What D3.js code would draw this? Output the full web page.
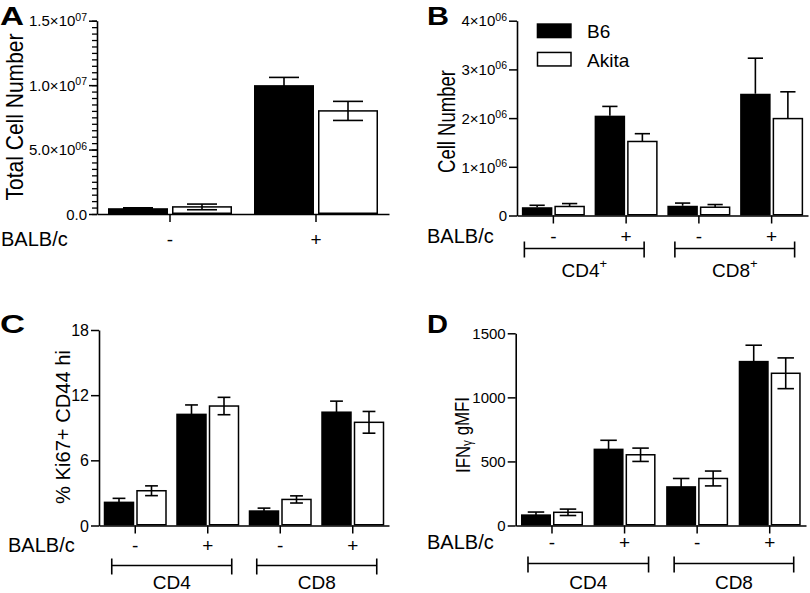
<!DOCTYPE html>
<html><head><meta charset="utf-8">
<script src="https://cdn.jsdelivr.net/npm/d3@7"></script>
<style>
body{margin:0;background:#fff}
svg{display:block}
text{font-family:"Liberation Sans",Arial,Helvetica,sans-serif;fill:#000}
</style>
</head><body>
<svg id="chart" width="810" height="593"></svg>
<script>
// ---------------- DATA ----------------
const seriesNames = ["B6", "Akita"];

// Panel A: total cell number
const catsA = ["-", "+"];
const totalB6 = [0.45e6, 10.0e6];
const totalB6Err = [0.03e6, 0.6e6];
const totalAkita = [0.55e6, 8.0e6];
const totalAkitaErr = [0.22e6, 0.74e6];
const ticksA = [0, 5e6, 1e7, 1.5e7];
const tickLabelsA = ["0.0", "5.0×10^06", "1.0×10^07", "1.5×10^07"];

// Shared categories for B, C, D
const catsSub = ["CD4 -", "CD4 +", "CD8 -", "CD8 +"];
const balbLabels = ["-", "+", "-", "+"];

// Panel B: cell number
const cellB6 = [0.17e6, 2.05e6, 0.2e6, 2.5e6];
const cellB6Err = [0.04e6, 0.19e6, 0.055e6, 0.73e6];
const cellAkita = [0.185e6, 1.52e6, 0.17e6, 1.99e6];
const cellAkitaErr = [0.06e6, 0.16e6, 0.055e6, 0.55e6];
const ticksB = [0, 1e6, 2e6, 3e6, 4e6];
const tickLabelsB = ["0", "1×10^06", "2×10^06", "3×10^06", "4×10^06"];
const subsetsB = [["CD4", "+"], ["CD8", "+"]];

// Panel C: % Ki67+ CD44 hi
const kiB6 = [2.2, 10.3, 1.4, 10.5];
const kiB6Err = [0.3, 0.8, 0.2, 0.95];
const kiAkita = [3.2, 11.0, 2.4, 9.5];
const kiAkitaErr = [0.45, 0.8, 0.33, 1.0];
const ticksC = [0, 6, 12, 18];
const tickLabelsC = ["0", "6", "12", "18"];
const subsetsC = [["CD4", ""], ["CD8", ""]];

// Panel D: IFNγ gMFI
const ifnB6 = [87, 600, 307, 1285];
const ifnB6Err = [18, 65, 60, 122];
const ifnAkita = [103, 552, 367, 1188];
const ifnAkitaErr = [25, 52, 58, 120];
const ticksD = [0, 500, 1000, 1500];
const tickLabelsD = ["0", "500", "1000", "1500"];
const subsetsD = [["CD4", ""], ["CD8", ""]];

// ---------------- DRAW ----------------
const svg = d3.select("#chart");

function panel(cfg) {
  const g = svg.append("g");
  const y = d3.scaleLinear().domain(cfg.domain).range([cfg.yBase, cfg.yTop]);
  const x = d3.scaleBand().domain(cfg.cats).range([cfg.x0, cfg.x1]).padding(0);
  const gap = cfg.gap, bw = cfg.barW;
  const inner = d3.scaleBand().domain(seriesNames)
    .range([-(bw + gap), bw + gap])
    .paddingInner(2 * gap / (bw + 2 * gap)).paddingOuter(0);

  const rows = [];
  cfg.cats.forEach((c, i) => {
    rows.push({cat: c, s: "B6", v: cfg.b6[i], e: cfg.b6Err[i]});
    rows.push({cat: c, s: "Akita", v: cfg.ak[i], e: cfg.akErr[i]});
  });
  const cx = d => x(d.cat) + x.bandwidth() / 2;

  // bars
  g.selectAll("rect.bar").data(rows).join("rect")
    .attr("class", "bar")
    .attr("x", d => cx(d) + inner(d.s) + (d.s === "Akita" ? 0.75 : 0))
    .attr("width", d => inner.bandwidth() - (d.s === "Akita" ? 1.5 : 0))
    .attr("y", d => y(d.v))
    .attr("height", d => cfg.yBase - y(d.v) - (d.s === "Akita" ? 0.75 : 0))
    .attr("fill", d => d.s === "B6" ? "#000" : "#fff")
    .attr("stroke", d => d.s === "B6" ? "none" : "#000")
    .attr("stroke-width", 1.5);

  // error bars
  const capHalf = bw * cfg.cap / 2;
  const eb = g.selectAll("g.err").data(rows).join("g").attr("class", "err")
    .attr("stroke", "#000").attr("stroke-width", 1.6).attr("fill", "none");
  eb.each(function(d) {
    const gg = d3.select(this);
    const mx = cx(d) + inner(d.s) + inner.bandwidth() / 2;
    const lo = cfg.upOnly ? d.v : d.v - d.e;
    gg.append("line").attr("x1", mx).attr("x2", mx).attr("y1", y(lo)).attr("y2", y(d.v + d.e));
    gg.append("line").attr("x1", mx - capHalf).attr("x2", mx + capHalf).attr("y1", y(d.v + d.e)).attr("y2", y(d.v + d.e));
    if (!cfg.upOnly)
      gg.append("line").attr("x1", mx - capHalf).attr("x2", mx + capHalf).attr("y1", y(d.v - d.e)).attr("y2", y(d.v - d.e));
  });

  // minor ticks
  if (cfg.minor) {
    const ma = g.append("g").attr("transform", `translate(${cfg.x0},0)`)
      .call(d3.axisLeft(y).ticks(cfg.minor).tickSize(5).tickSizeOuter(0).tickFormat(""));
    ma.select(".domain").remove();
    ma.selectAll("line").attr("stroke-width", 1.3);
  }

  // y axis
  const ya = g.append("g").attr("transform", `translate(${cfg.x0},0)`)
    .call(d3.axisLeft(y).tickValues(cfg.ticks).tickSize(8).tickSizeOuter(0).tickPadding(2)
      .tickFormat((d, i) => cfg.tickLabels[i]));
  ya.select(".domain").attr("stroke-width", 1.6);
  ya.selectAll(".tick line").attr("stroke-width", 1.5);
  ya.selectAll(".tick text").attr("font-size", cfg.tickSize || 15).attr("font-family", null)
    .attr("dy", "0.35em")
    .each(function() {
      const t = d3.select(this);
      const s = t.text();
      if (s.indexOf("^") >= 0) {
        const [base, sup] = s.split("^");
        t.text(null);
        t.append("tspan").text(base);
        t.append("tspan").attr("font-size", 10.5).attr("dy", "-0.55em").text(sup);
      }
    });

  // x axis
  const xa = g.append("g").attr("transform", `translate(0,${cfg.yBase})`)
    .call(d3.axisBottom(x).tickSize(8).tickSizeOuter(0).tickFormat(""));
  xa.select(".domain").attr("stroke-width", 1.6);
  xa.selectAll(".tick line").attr("stroke-width", 1.5);

  // category (-/+) labels
  g.selectAll("text.catlab").data(cfg.cats).join("text")
    .attr("class", "catlab")
    .attr("x", c => x(c) + x.bandwidth() / 2)
    .attr("y", cfg.catY)
    .attr("text-anchor", "middle").attr("font-size", 19)
    .text((c, i) => cfg.catLabels[i]);

  // BALB/c label
  g.append("text").attr("x", cfg.balbX).attr("y", cfg.catY)
    .attr("font-size", 20).text("BALB/c");

  // brackets
  if (cfg.subsets) {
    cfg.subsets.forEach((sub, k) => {
      const c1 = cfg.cats[2 * k], c2 = cfg.cats[2 * k + 1];
      const xa1 = x(c1) + x.bandwidth() / 2 + cfg.brFrom[k];
      const xa2 = x(c2) + x.bandwidth() / 2 + cfg.brTo[k];
      const by = cfg.brY;
      const bg = g.append("g").attr("stroke", "#000").attr("stroke-width", 1.6);
      bg.append("line").attr("x1", xa1).attr("x2", xa2).attr("y1", by).attr("y2", by);
      bg.append("line").attr("x1", xa1).attr("x2", xa1).attr("y1", by - 7).attr("y2", by + 9);
      bg.append("line").attr("x1", xa2).attr("x2", xa2).attr("y1", by - 7).attr("y2", by + 9);
      const t = g.append("text").attr("x", (xa1 + xa2) / 2).attr("y", cfg.brLabY)
        .attr("text-anchor", "middle").attr("font-size", 19);
      t.append("tspan").text(sub[0]);
      if (sub[1]) t.append("tspan").attr("font-size", 13).attr("dy", "-0.7em").text(sub[1]);
    });
  }

  // y title
  const tt = g.append("text")
    .attr("transform", `translate(${cfg.titleX},${cfg.titleY}) rotate(-90)`)
    .attr("text-anchor", "middle").attr("font-size", cfg.titleSize)
    .attr("textLength", cfg.titleLen).attr("lengthAdjust", "spacingAndGlyphs");
  cfg.title.forEach(p => {
    const ts = tt.append("tspan").text(p.t);
    if (p.small) ts.attr("font-size", cfg.titleSize * 0.7).attr("dy", "0.15em");
    if (p.back) ts.attr("dy", "-0.15em");
  });

  // panel letter
  g.append("text").attr("x", cfg.letterX).attr("y", cfg.letterY)
    .attr("font-size", 25).attr("font-weight", "bold")
    .attr("textLength", cfg.letterW).attr("lengthAdjust", "spacingAndGlyphs")
    .text(cfg.letter);
  return {x, y, g};
}

panel({
  domain: [0, 1.5e7], yBase: 214, yTop: 20.7, x0: 97, x1: 389,
  cats: catsA, catLabels: catsA, b6: totalB6, b6Err: totalB6Err, ak: totalAkita, akErr: totalAkitaErr,
  barW: 60, gap: 2, cap: 0.5, upOnly: false,
  ticks: ticksA, tickLabels: tickLabelsA, minor: 30,
  catY: 246, balbX: 1,
  title: [{t: "Total Cell Number"}], titleX: 23, titleY: 117, titleSize: 24, titleLen: 167,
  letter: "A", letterX: 0, letterY: 25, letterW: 24
});

panel({
  domain: [0, 4e6], yBase: 215.5, yTop: 20.7, x0: 517, x1: 808,
  cats: catsSub, catLabels: balbLabels, b6: cellB6, b6Err: cellB6Err, ak: cellAkita, akErr: cellAkitaErr,
  barW: 30.5, gap: 1, cap: 0.5, upOnly: true,
  ticks: ticksB, tickLabels: tickLabelsB,
  catY: 243, balbX: 427,
  subsets: subsetsB, brFrom: [-29, -24], brTo: [18, 23], brY: 248.5, brLabY: 277,
  title: [{t: "Cell Number"}], titleX: 455, titleY: 121.5, titleSize: 23, titleLen: 103,
  letter: "B", letterX: 427, letterY: 25, letterW: 22
});

panel({
  domain: [0, 18], yBase: 525.5, yTop: 330, x0: 99, x1: 389,
  cats: catsSub, catLabels: balbLabels, b6: kiB6, b6Err: kiB6Err, ak: kiAkita, akErr: kiAkitaErr,
  barW: 30.5, gap: 1, cap: 0.42, upOnly: false,
  ticks: ticksC, tickLabels: tickLabelsC, tickSize: 16,
  catY: 552, balbX: 8,
  subsets: subsetsC, brFrom: [-23.5, -23.5], brTo: [24, 24], brY: 565.5, brLabY: 589,
  title: [{t: "% Ki67+ CD44 hi"}], titleX: 70, titleY: 427, titleSize: 21, titleLen: 154,
  letter: "C", letterX: 0, letterY: 333, letterW: 25
});

panel({
  domain: [0, 1500], yBase: 525.5, yTop: 333.3, x0: 515.7, x1: 806,
  cats: catsSub, catLabels: balbLabels, b6: ifnB6, b6Err: ifnB6Err, ak: ifnAkita, akErr: ifnAkitaErr,
  barW: 30, gap: 1, cap: 0.55, upOnly: false,
  ticks: ticksD, tickLabels: tickLabelsD,
  catY: 549, balbX: 427,
  subsets: subsetsD, brFrom: [-24, -23], brTo: [24, 24], brY: 563.5, brLabY: 589,
  title: [{t: "IFN"}, {t: "γ", small: true}, {t: " gMFI", back: true}], titleX: 470, titleY: 435, titleSize: 20, titleLen: 76,
  letter: "D", letterX: 427, letterY: 333, letterW: 21
});

// Legend (panel B)
const legend = svg.append("g");
legend.selectAll("rect").data(seriesNames).join("rect")
  .attr("x", d => d === "Akita" ? 537.5 : 536.7)
  .attr("y", d => d === "Akita" ? 52.45 : 23.3)
  .attr("width", d => d === "Akita" ? 33.5 : 35)
  .attr("height", d => d === "Akita" ? 13.5 : 15)
  .attr("fill", d => d === "B6" ? "#000" : "#fff")
  .attr("stroke", d => d === "B6" ? "none" : "#000").attr("stroke-width", 1.5);
legend.selectAll("text").data(seriesNames).join("text")
  .attr("x", 587).attr("y", d => d === "B6" ? 38.3 : 66.5)
  .attr("font-size", 19).text(d => d);
</script>
</body></html>
